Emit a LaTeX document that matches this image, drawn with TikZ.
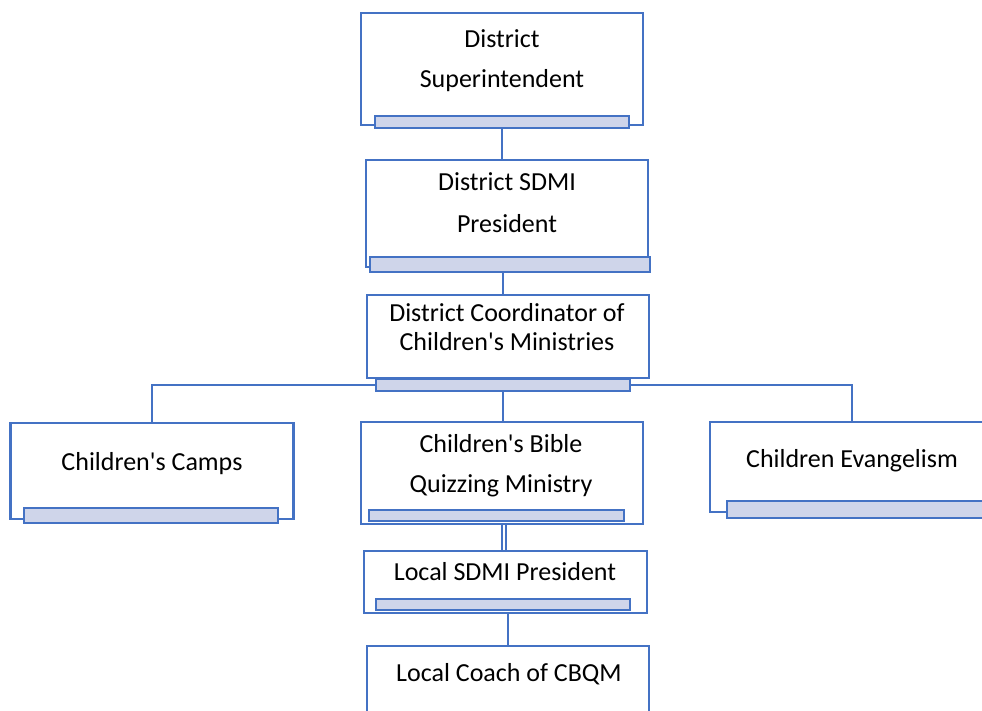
\documentclass[tikz,border=0pt]{standalone}
\usepackage{fontspec}
\setmainfont{Carlito}
\usetikzlibrary{backgrounds}
\definecolor{azul}{HTML}{4472C4}
\definecolor{lila}{HTML}{CFD5EA}
\tikzset{
  caja/.style={draw=azul, line width=2.9pt, fill=white, inner sep=0pt},
  barra/.style={draw=azul, line width=2.9pt, fill=lila, inner sep=0pt},
  texto/.style={font=\fontsize{26}{30}\selectfont, inner sep=0pt, text height=19pt, text depth=3pt},
  linea/.style={draw=azul, line width=2.9pt}
}
\begin{document}
\begin{tikzpicture}[x=1pt,y=-1pt]
    \clip (0,0) rectangle (982,711);

    % Superintendente
    \node[caja, minimum width=282pt, minimum height=112pt] (superint) at (502,69) {};
    \node[barra, minimum width=254pt, minimum height=12pt] (superbar) at (502,122) {};
    \node[texto] (superA) at (502,40) {District};
    \node[texto] (superB) at (502,80) {Superintendent};

    % Presidente SDMI del distrito
    \node[caja, minimum width=282pt, minimum height=107pt] (sdmi) at (507,213.5) {};
    \node[barra, minimum width=280pt, minimum height=15pt] (sdmibar) at (510,264.5) {};
    \node[texto] (sdmiA) at (507,183) {District SDMI};
    \node[texto] (sdmiB) at (507,225) {President};

    % Coordinador
    \node[caja, minimum width=282pt, minimum height=83pt] (coord) at (508,336.5) {};
    \node[barra, minimum width=254pt, minimum height=12pt] (coordbar) at (503,385) {};
    \node[texto] (coordA) at (507,313) {District Coordinator of};
    \node[texto] (coordB) at (507,342) {Children\textquotesingle s Ministries};

    % Campamentos
    \node[caja, minimum width=283pt, minimum height=96pt] (camps) at (152,471) {};
    \node[barra, minimum width=254pt, minimum height=15pt] (campsbar) at (151,515.5) {};
    \node[texto] (campsA) at (152,462) {Children\textquotesingle s Camps};

    % Quizzing
    \node[caja, minimum width=282pt, minimum height=102pt] (quiz) at (502,473) {};
    \node[barra, minimum width=255pt, minimum height=11pt] (quizbar) at (496.5,515.5) {};
    \node[texto] (quizA) at (501,444) {Children\textquotesingle s Bible};
    \node[texto] (quizB) at (501,484) {Quizzing Ministry};

    % Evangelismo
    \node[caja, minimum width=284pt, minimum height=90pt] (evang) at (852,467) {};
    \node[barra, minimum width=268pt, minimum height=17pt] (evangbar) at (861,509.5) {};
    \node[texto] (evangA) at (852,459) {Children Evangelism};

    % Presidente local
    \node[caja, minimum width=283pt, minimum height=62pt] (local) at (505.5,582) {};
    \node[barra, minimum width=254pt, minimum height=11pt] (localbar) at (503,604.5) {};
    \node[texto] (localA) at (505,572) {Local SDMI President};

    % Entrenador local
    \node[caja, minimum width=282pt, minimum height=94pt] (coach) at (508,693) {};
    \node[texto] (coachA) at (509,673) {Local Coach of CBQM};

    % Conectores
    \begin{pgfonlayer}{background}
        \fill[white] (0,0) rectangle (982,711);
        \draw[linea] (superbar.south) -- (superbar.south |- sdmi.north);
        \draw[linea] (coordbar.center |- sdmibar.south) -- (coordbar.center |- coord.north);
        \draw[linea] (camps.north) |- (coordbar.center) -| (evang.north);
        \draw[linea] (coordbar.south) -- (coordbar.south |- quiz.north);
        \draw[linea, line width=1.9pt, double=white, double distance=2.2pt]
            ([xshift=2pt]quiz.south) -- ([xshift=2pt]quiz.south |- local.north);
        \draw[linea] (coach.north) -- (coach.north |- local.south);
    \end{pgfonlayer}
\end{tikzpicture}
\end{document}
